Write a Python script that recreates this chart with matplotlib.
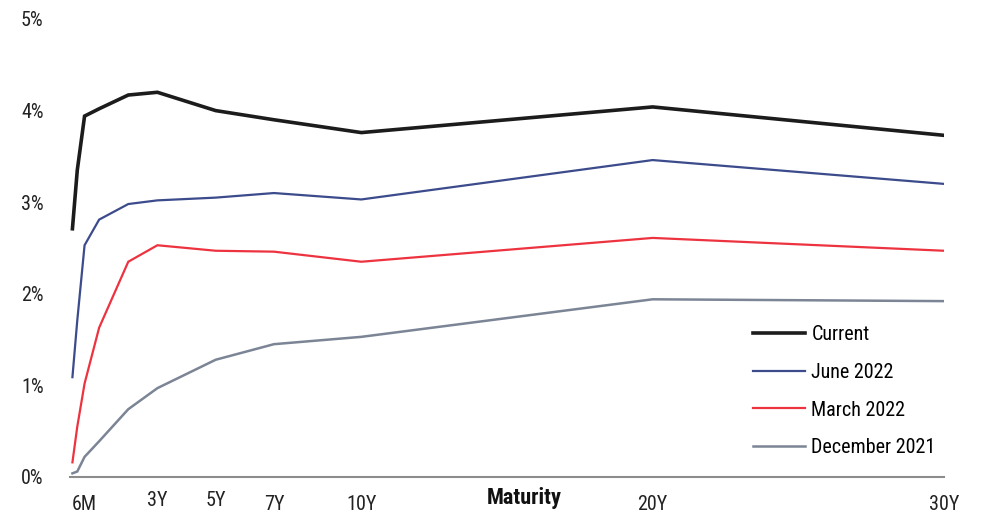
import matplotlib.pyplot as plt
import matplotlib.transforms as mtransforms

# Maturities in years and yield curves in percent
maturities = [1/12, 0.25, 0.5, 1, 2, 3, 5, 7, 10, 20, 30]
current = [2.71, 3.35, 3.94, 4.02, 4.17, 4.20, 4.00, 3.90, 3.76, 4.04, 3.73]
june_2022 = [1.09, 1.71, 2.53, 2.81, 2.98, 3.02, 3.05, 3.10, 3.03, 3.46, 3.20]
march_2022 = [0.16, 0.55, 1.02, 1.63, 2.35, 2.53, 2.47, 2.46, 2.35, 2.61, 2.47]
december_2021 = [0.04, 0.06, 0.22, 0.39, 0.74, 0.97, 1.28, 1.45, 1.53, 1.94, 1.92]

tick_years = [0.5, 3, 5, 7, 10, 20, 30]
tick_labels = ['6M', '3Y', '5Y', '7Y', '10Y', '20Y', '30Y']
y_ticks = [0, 1, 2, 3, 4, 5]

plt.rcParams['font.family'] = ['Roboto Condensed', 'DejaVu Sans']
FS = 14.5

fig = plt.figure(figsize=(9.82, 5.13), dpi=100)
ax = fig.add_axes([70/982, 1 - 477/513, (944 - 70)/982, (477 - 19)/513])

series = [
    ('Current', current, '#1c1c1c', 2.6),
    ('June 2022', june_2022, '#3c4b8c', 1.6),
    ('March 2022', march_2022, '#ee3340', 1.6),
    ('December 2021', december_2021, '#7b8595', 1.8),
]
for label, values, color, lw in series:
    ax.plot(maturities, values, color=color, lw=lw, label=label,
            solid_joinstyle='miter')

ax.set_xlim(0, 30)
ax.set_ylim(0, 5)
ax.set_xticks(tick_years)
ax.set_xticklabels(tick_labels, fontsize=FS, color='#222222')
ax.set_yticks(y_ticks)
ax.set_yticklabels([f'{v}%' for v in y_ticks], fontsize=FS, color='#222222')
ax.tick_params(axis='both', length=0)
ax.tick_params(axis='x', pad=13)
ax.tick_params(axis='y', pad=19)

# 3Y and 5Y labels sit a little higher than the rest
for lbl, txt in zip(ax.get_xticklabels(), tick_labels):
    if txt in ('3Y', '5Y'):
        lbl.set_transform(lbl.get_transform() +
                          mtransforms.ScaledTranslation(0, 4/100, fig.dpi_scale_trans))

for side in ('top', 'right', 'left'):
    ax.spines[side].set_visible(False)
ax.spines['bottom'].set_color('#8c8c8c')
ax.spines['bottom'].set_linewidth(1.5)

ax.text(524/982, 1 - 498/513, 'Maturity', transform=fig.transFigure,
        ha='center', va='center', fontsize=16, fontweight='bold', color='#111111')

ax.legend(loc='upper left', bbox_to_anchor=(745/982, 1 - 317/513),
          bbox_transform=fig.transFigure, frameon=False, fontsize=FS,
          handlelength=2.6, handletextpad=0.3, labelspacing=0.93,
          borderaxespad=0)

fig.savefig('out.png', dpi=100, facecolor='white')
